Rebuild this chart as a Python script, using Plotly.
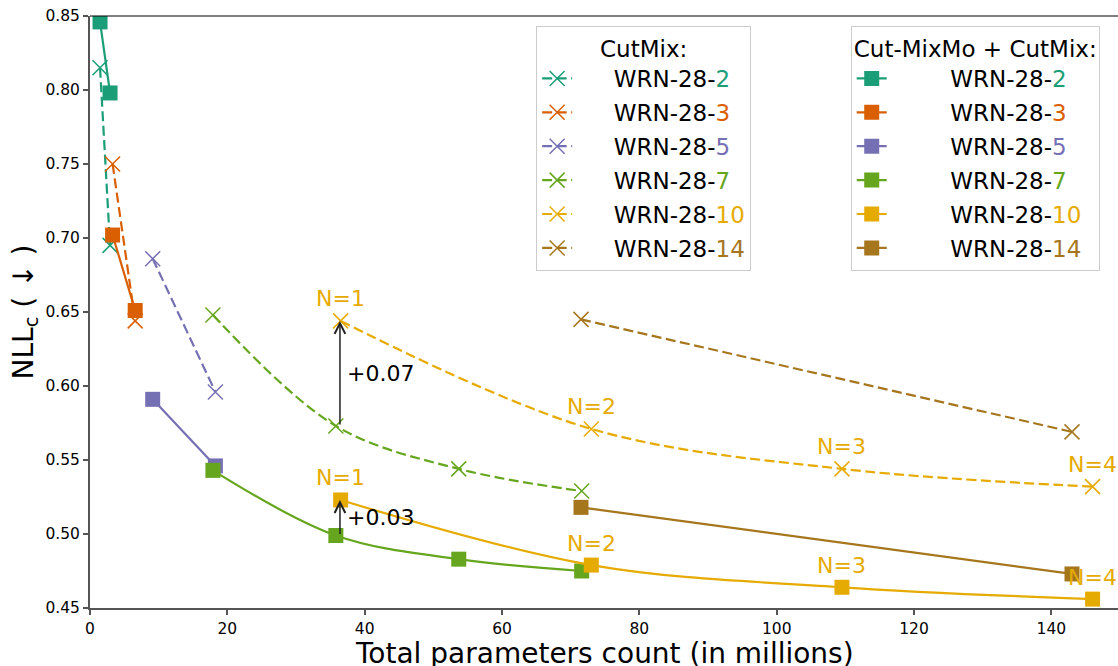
import plotly.graph_objects as go

# ---------------- data ----------------
widths = ["2", "3", "5", "7", "10", "14"]
colors = ["#1b9e77", "#d95f02", "#7570b3", "#66a61e", "#e6ab02", "#a6761d"]

params_x = [
    [1.46, 2.92],
    [3.29, 6.58],
    [9.13, 18.26],
    [17.9, 35.8, 53.7, 71.6],
    [36.5, 73.0, 109.5, 146.0],
    [71.5, 143.0],
]
cutmix_y = [
    [0.815, 0.695],
    [0.750, 0.644],
    [0.686, 0.596],
    [0.648, 0.573, 0.544, 0.529],
    [0.644, 0.571, 0.544, 0.532],
    [0.645, 0.569],
]
mixmo_y = [
    [0.846, 0.798],
    [0.702, 0.651],
    [0.591, 0.546],
    [0.543, 0.499, 0.483, 0.475],
    [0.523, 0.479, 0.464, 0.456],
    [0.518, 0.473],
]
n_labels = ["N=1", "N=2", "N=3", "N=4"]

x_ticks = [0, 20, 40, 60, 80, 100, 120, 140]
y_ticks = [0.45, 0.50, 0.55, 0.60, 0.65, 0.70, 0.75, 0.80, 0.85]

# ---------------- figure ----------------
fig = go.Figure()
FONT = "DejaVu Sans"

def legend_name(w, c, pad):
    return f"{'&nbsp;' * pad}WRN-28-<span style='color:{c}'>{w}</span>"

# CutMix dashed
for i, (w, c) in enumerate(zip(widths, colors)):
    fig.add_trace(go.Scatter(
        x=params_x[i], y=cutmix_y[i], mode="lines+markers",
        name=legend_name(w, c, 5), legend="legend", legendgroup=f"cm{i}",
        line=dict(color=c, width=2.2, dash="10px,4.5px",
                  shape="spline" if len(params_x[i]) > 2 else "linear"),
        marker=dict(symbol="x-thin", size=15, color=c, line=dict(color=c, width=1.5)),
    ))
# Cut-MixMo + CutMix solid
for i, (w, c) in enumerate(zip(widths, colors)):
    fig.add_trace(go.Scatter(
        x=params_x[i], y=mixmo_y[i], mode="lines+markers",
        name=legend_name(w, c, 8), legend="legend2", legendgroup=f"mm{i}",
        line=dict(color=c, width=2.2,
                  shape="spline" if len(params_x[i]) > 2 else "linear"),
        marker=dict(symbol="square", size=15, color=c, line=dict(width=0)),
    ))

# N= labels for WRN-28-10
yel = colors[4]
for j, lab in enumerate(n_labels):
    for ys in (cutmix_y[4], mixmo_y[4]):
        fig.add_annotation(x=params_x[4][j], y=ys[j], text=lab, showarrow=False,
                           yshift=22, font=dict(family=FONT, size=22, color=yel))

# arrows
arrow_x = 36.4
fig.add_annotation(x=arrow_x, y=cutmix_y[4][0], ax=arrow_x, ay=cutmix_y[3][1],
                   xref="x", yref="y", axref="x", ayref="y", text="",
                   showarrow=True, arrowhead=5, arrowsize=1.4, arrowwidth=1.5,
                   arrowcolor="#222222")
fig.add_annotation(x=arrow_x + 0.8, y=(cutmix_y[4][0] + cutmix_y[3][1]) / 2,
                   text="+0.07", showarrow=False, xanchor="left",
                   font=dict(family=FONT, size=22, color="black"))
fig.add_annotation(x=arrow_x, y=mixmo_y[4][0], ax=arrow_x, ay=mixmo_y[3][1],
                   xref="x", yref="y", axref="x", ayref="y", text="",
                   showarrow=True, arrowhead=5, arrowsize=1.4, arrowwidth=1.5,
                   arrowcolor="#222222")
fig.add_annotation(x=arrow_x + 0.8, y=(mixmo_y[4][0] + mixmo_y[3][1]) / 2,
                   text="+0.03", showarrow=False, xanchor="left",
                   font=dict(family=FONT, size=22, color="black"))

# x-axis title (placed as annotation so it can sit at the very bottom edge)
fig.add_annotation(x=0.5, y=-0.0765, xref="paper", yref="paper",
                   text="Total parameters count (in millions)", showarrow=False,
                   xanchor="center", yanchor="middle",
                   font=dict(family=FONT, size=28, color="black"))

# top spine
fig.add_shape(type="line", xref="paper", yref="paper", x0=0, x1=1, y0=1, y1=1,
              line=dict(color="black", width=1))

legend_common = dict(
    font=dict(family=FONT, size=23, color="black"),
    bgcolor="rgba(255,255,255,0.85)", bordercolor="#cccccc", borderwidth=1,
    xanchor="left", yanchor="top", traceorder="grouped", tracegroupgap=1,
)

fig.update_layout(
    width=1118, height=666,
    margin=dict(l=90, r=0, t=16, b=58, autoexpand=False),
    plot_bgcolor="white", paper_bgcolor="white",
    font=dict(family=FONT, color="black"),
    showlegend=True,
    legend=dict(x=0.434, y=0.983,
                title=dict(text="CutMix:", side="top center",
                           font=dict(family=FONT, size=23, color="black")),
                **legend_common),
    legend2=dict(x=0.740, y=0.983,
                 title=dict(text="Cut-MixMo + CutMix:", side="top center",
                            font=dict(family=FONT, size=23, color="black")),
                 **legend_common),
    xaxis=dict(range=[0, 149.7], tickvals=x_ticks, showgrid=False, zeroline=False,
               showline=True, linecolor="#555555", linewidth=2,
               ticks="outside", ticklen=5, tickcolor="#555555", tickwidth=1.5,
               tickfont=dict(family=FONT, size=15.5, color="black")),
    yaxis=dict(range=[0.45, 0.85], tickvals=y_ticks, tickformat=".2f",
               showgrid=False, zeroline=False,
               showline=True, linecolor="#555555", linewidth=2,
               ticks="outside", ticklen=5, tickcolor="#555555", tickwidth=1.5,
               tickfont=dict(family=FONT, size=15.5, color="black"),
               title=dict(text="NLL<sub>c</sub> ( ↓ )",
                          font=dict(family=FONT, size=28, color="black"), standoff=4)),
)

fig.write_html(
    "out.html",
    config={"displayModeBar": False},
    post_script="document.body.style.margin='0';document.body.style.overflow='hidden';",
)
